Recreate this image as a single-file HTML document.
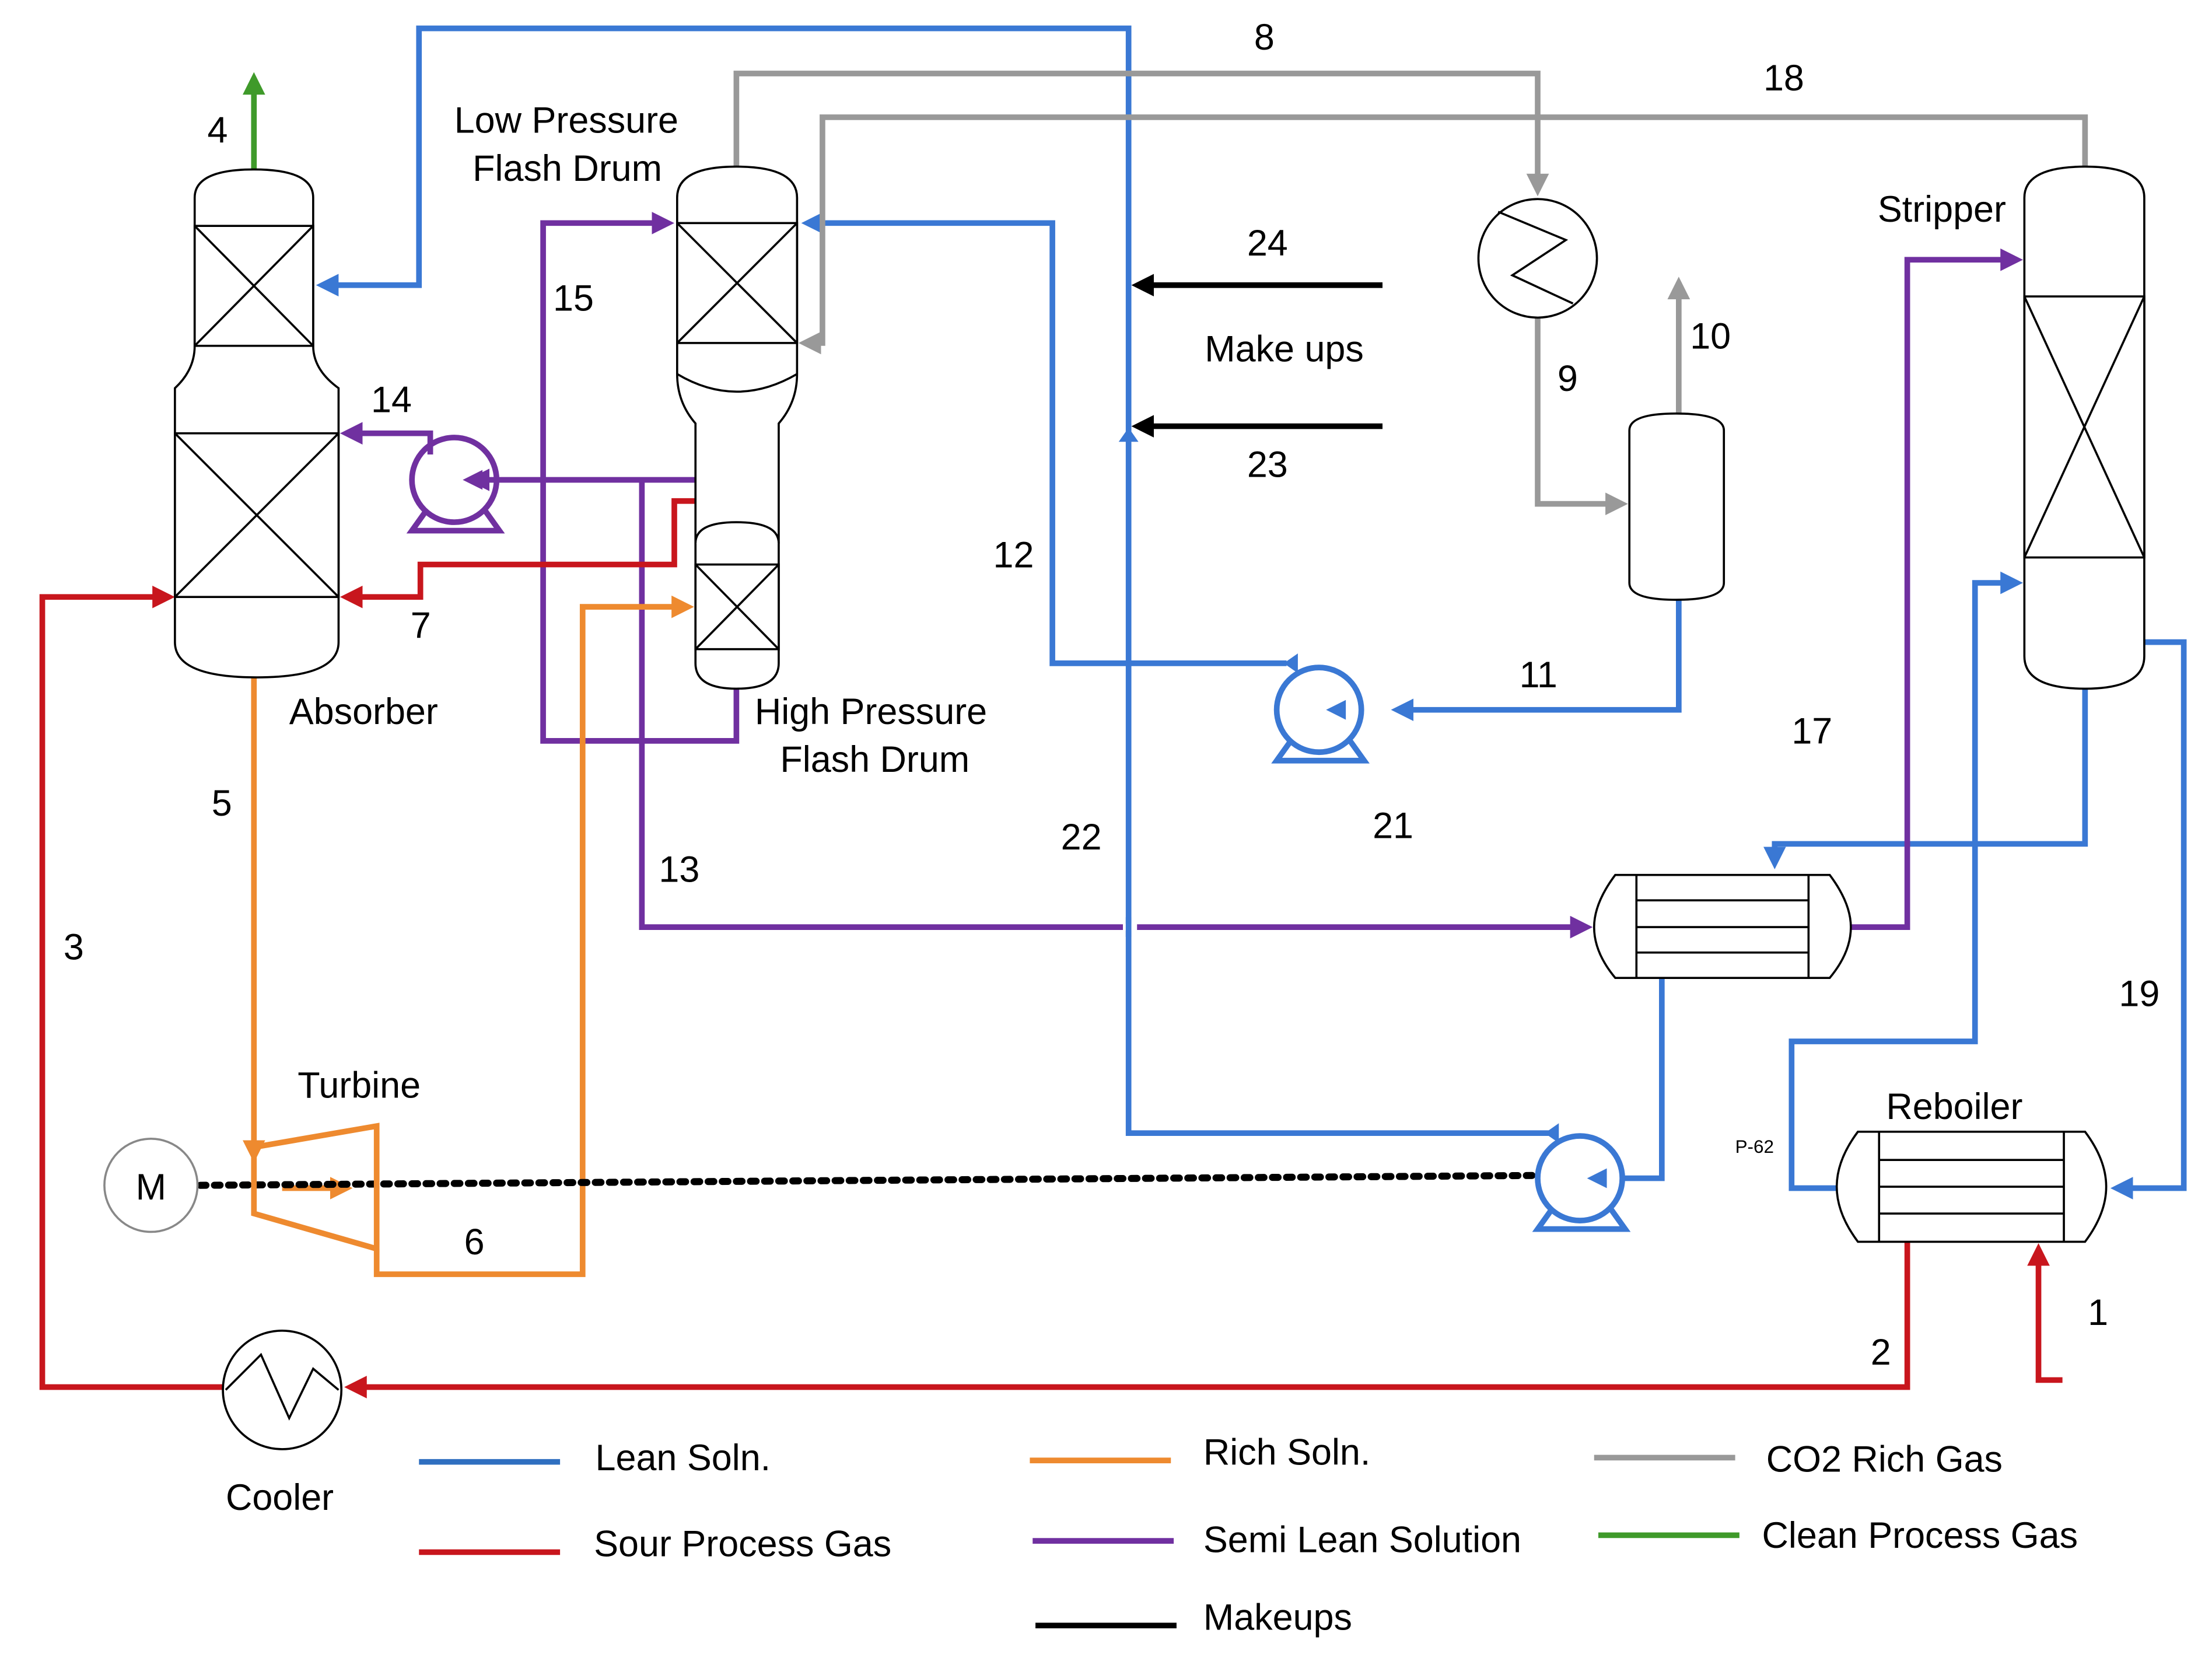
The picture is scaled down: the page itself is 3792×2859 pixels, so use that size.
<!DOCTYPE html>
<html><head><meta charset="utf-8"><style>html,body{margin:0;padding:0;background:#fff}svg{display:block}</style></head><body>
<svg width="3792" height="2859" viewBox="0 0 1568 1182" xmlns="http://www.w3.org/2000/svg" font-family="Liberation Sans, sans-serif">
<defs>
<marker id="ab" markerWidth="4" markerHeight="4" refX="3" refY="2" orient="auto" markerUnits="strokeWidth"><path d="M0,0 L4,2 L0,4z" fill="#3a78d4"/></marker>
<marker id="ar" markerWidth="4" markerHeight="4" refX="3" refY="2" orient="auto" markerUnits="strokeWidth"><path d="M0,0 L4,2 L0,4z" fill="#c8161d"/></marker>
<marker id="ao" markerWidth="4" markerHeight="4" refX="3" refY="2" orient="auto" markerUnits="strokeWidth"><path d="M0,0 L4,2 L0,4z" fill="#ee8a2f"/></marker>
<marker id="ap" markerWidth="4" markerHeight="4" refX="3" refY="2" orient="auto" markerUnits="strokeWidth"><path d="M0,0 L4,2 L0,4z" fill="#7030a0"/></marker>
<marker id="ag" markerWidth="4" markerHeight="4" refX="3" refY="2" orient="auto" markerUnits="strokeWidth"><path d="M0,0 L4,2 L0,4z" fill="#999"/></marker>
<marker id="agr" markerWidth="4" markerHeight="4" refX="3" refY="2" orient="auto" markerUnits="strokeWidth"><path d="M0,0 L4,2 L0,4z" fill="#3f9a2a"/></marker>
<marker id="ak" markerWidth="4" markerHeight="4" refX="3" refY="2" orient="auto" markerUnits="strokeWidth"><path d="M0,0 L4,2 L0,4z" fill="#000"/></marker>
</defs>
<g fill="none" stroke-width="4" stroke-linejoin="miter">
<polyline stroke="#3a78d4" points="1100,803 800,803 800,20 297,20 297,202 228,202" marker-end="url(#ab)"/>
<polyline stroke="#3a78d4" points="1178,690 1178,835 1150,835"/>
<polyline stroke="#3a78d4" points="1190,425 1190,503 990,503" marker-end="url(#ab)"/>
<polyline stroke="#3a78d4" points="912,470 746,470 746,158 572,158" marker-end="url(#ab)"/>
<polyline stroke="#3a78d4" points="1478,488 1478,598 1258,598 1258,612" marker-end="url(#ab)"/>
<polyline stroke="#3a78d4" points="1520,455 1548,455 1548,842 1500,842" marker-end="url(#ab)"/>
<polyline stroke="#3a78d4" points="1302,842 1270,842 1270,738 1400,738 1400,413 1430,413" marker-end="url(#ab)"/>
<polyline stroke="#999" points="522,118 522,52 1090,52 1090,135" marker-end="url(#ag)"/>
<polyline stroke="#999" points="1478,118 1478,83 583,83 583,243 570,243" marker-end="url(#ag)"/>
<polyline stroke="#999" points="1090,225 1090,357 1150,357" marker-end="url(#ag)"/>
<polyline stroke="#999" points="1190,293 1190,200" marker-end="url(#ag)"/>
<polyline stroke="#3f9a2a" points="180,120 180,55" marker-end="url(#agr)"/>
<polyline stroke="#7030a0" points="522,285 522,340 335,340" marker-end="url(#ap)"/>
<polyline stroke="#7030a0" points="305,322 305,307 245,307" marker-end="url(#ap)"/>
<polyline stroke="#7030a0" points="522,488 522,525 385,525 385,158 474,158" marker-end="url(#ap)"/>
<polyline stroke="#7030a0" points="455,340 455,657 1125,657" marker-end="url(#ap)"/>
<polyline stroke="#7030a0" points="1312,657 1352,657 1352,184 1430,184" marker-end="url(#ap)"/>
<line x1="796" y1="657" x2="806" y2="657" stroke="#fff" stroke-width="5"/>
<line x1="800" y1="650" x2="800" y2="664" stroke="#3a78d4"/>
<polyline stroke="#c8161d" points="522,370 522,355 478,355 478,400 298,400 298,423 245,423" marker-end="url(#ar)"/>
<polyline stroke="#c8161d" points="1352,880 1352,983 248,983" marker-end="url(#ar)"/>
<polyline stroke="#c8161d" points="158,983 30,983 30,423 120,423" marker-end="url(#ar)"/>
<polyline stroke="#c8161d" points="1462,978 1445,978 1445,885" marker-end="url(#ar)"/>
<polyline stroke="#ee8a2f" points="180,480 180,820" marker-end="url(#ao)"/>
<polyline stroke="#ee8a2f" points="267,885 267,903 413,903 413,430 488,430" marker-end="url(#ao)"/>
<polyline stroke="#ee8a2f" points="200,842 246,842" marker-end="url(#ao)"/>
<polyline stroke="#000" points="980,202 806,202" marker-end="url(#ak)"/>
<polyline stroke="#000" points="980,302 806,302" marker-end="url(#ak)"/>
<path d="M800,303 l-7,10 h14z" fill="#3a78d4" stroke="none"/>
<line x1="142" y1="840" x2="1090" y2="833" stroke="#000" stroke-dasharray="4,6" stroke-width="5" stroke-linecap="round"/>
</g>
<g fill="#fff" stroke="#000" stroke-width="1.5">
<path d="M138,245 V140 Q138,120 180,120 Q222,120 222,140 V245 Q222,262 240,275 V455 Q240,480 182,480 Q124,480 124,455 V275 Q138,262 138,245z"/>
<rect x="138" y="160" width="84" height="85"/><path d="M138,160 L222,245 M222,160 L138,245"/>
<rect x="124" y="307" width="116" height="116"/><path d="M124,307 L240,423 M240,307 L124,423"/>
<path d="M480,265 V140 Q480,118 522,118 Q565,118 565,140 V265 Q565,285 552,300 V470 Q552,488 522,488 Q493,488 493,470 V300 Q480,285 480,265z"/>
<rect x="480" y="158" width="85" height="85"/><path d="M480,158 L565,243 M565,158 L480,243"/>
<path d="M480,265 Q522,290 565,265" />
<path d="M493,385 Q493,370 522,370 Q552,370 552,385"/>
<rect x="493" y="400" width="59" height="60"/><path d="M493,400 L552,460 M552,400 L493,460"/>
<path d="M1435,140 Q1435,118 1478,118 Q1520,118 1520,140 V465 Q1520,488 1478,488 Q1435,488 1435,465z"/>
<rect x="1435" y="210" width="85" height="185"/><path d="M1435,210 L1520,395 M1520,210 L1435,395"/>
<path d="M1155,305 Q1155,293 1188,293 Q1222,293 1222,305 V413 Q1222,425 1188,425 Q1155,425 1155,413z"/>
<circle cx="1090" cy="183" r="42"/><path d="M1062,150 L1110,170 L1072,195 L1115,215" fill="none"/>
<circle cx="200" cy="985" r="42"/><path d="M160,985 L185,960 L205,1005 L222,970 L240,985" fill="none"/>
<path d="M1145,620 H1297 Q1312,640 1312,657 Q1312,675 1297,693 H1145 Q1130,675 1130,657 Q1130,640 1145,620z"/>
<path d="M1160,620 V693 M1282,620 V693 M1160,638 H1282 M1160,657 H1282 M1160,675 H1282" fill="none"/>
<path d="M1317,802 H1478 Q1493,822 1493,841 Q1493,860 1478,880 H1317 Q1302,860 1302,841 Q1302,822 1317,802z"/>
<path d="M1332,802 V880 M1463,802 V880 M1332,822 H1463 M1332,841 H1463 M1332,860 H1463" fill="none"/>
<circle cx="107" cy="840" r="33" stroke="#888"/>
</g>
<path d="M180,813 L267,798 L267,885 L180,860z" fill="none" stroke="#ee8a2f" stroke-width="4"/>
<g fill="none" stroke-width="4">
<g stroke="#7030a0"><circle cx="322" cy="340" r="30"/><path d="M302,362 L292,376 H354 L344,362"/></g>
<g stroke="#3a78d4"><circle cx="935" cy="503" r="30"/><path d="M915,525 L905,539 H967 L957,525"/>
<circle cx="1120" cy="835" r="30"/><path d="M1100,857 L1090,871 H1152 L1142,857"/></g>
</g>
<g fill="#3a78d4"><path d="M940,503 l14,-7 v14z"/><path d="M1125,835 l14,-7 v14z"/><path d="M910,470 l10,-7 v14z"/><path d="M1095,803 l10,-7 v14z"/></g>
<path d="M328,340 l14,-7 v14z" fill="#7030a0"/>
<text x="107" y="850" font-size="26" text-anchor="middle">M</text>
<g stroke-width="4">
<line x1="297" y1="1036" x2="397" y2="1036" stroke="#2f6fc0"/>
<line x1="297" y1="1100" x2="397" y2="1100" stroke="#c8161d"/>
<line x1="730" y1="1035" x2="830" y2="1035" stroke="#ee8a2f"/>
<line x1="732" y1="1092" x2="832" y2="1092" stroke="#7030a0"/>
<line x1="734" y1="1152" x2="834" y2="1152" stroke="#000"/>
<line x1="1130" y1="1033" x2="1230" y2="1033" stroke="#999"/>
<line x1="1133" y1="1088" x2="1233" y2="1088" stroke="#3f9a2a"/>
</g>
<g font-size="26" fill="#000">
<text x="422" y="1042">Lean Soln.</text>
<text x="421" y="1103">Sour Process Gas</text>
<text x="853" y="1038">Rich Soln.</text>
<text x="853" y="1100">Semi Lean Solution</text>
<text x="853" y="1155">Makeups</text>
<text x="1252" y="1043">CO2 Rich Gas</text>
<text x="1249" y="1097">Clean Process Gas</text>
<text x="322" y="94">Low Pressure</text>
<text x="335" y="128">Flash Drum</text>
<text x="205" y="513">Absorber</text>
<text x="535" y="513">High Pressure</text>
<text x="553" y="547">Flash Drum</text>
<text x="854" y="256">Make ups</text>
<text x="1331" y="157">Stripper</text>
<text x="211" y="778">Turbine</text>
<text x="1337" y="793">Reboiler</text>
<text x="160" y="1070">Cooler</text>
<text x="147" y="101">4</text>
<text x="889" y="35">8</text>
<text x="1250" y="64">18</text>
<text x="884" y="181">24</text>
<text x="884" y="338">23</text>
<text x="392" y="220">15</text>
<text x="263" y="292">14</text>
<text x="291" y="452">7</text>
<text x="1104" y="277">9</text>
<text x="1198" y="247">10</text>
<text x="704" y="402">12</text>
<text x="1077" y="487">11</text>
<text x="1270" y="527">17</text>
<text x="973" y="594">21</text>
<text x="752" y="602">22</text>
<text x="467" y="625">13</text>
<text x="150" y="578">5</text>
<text x="45" y="680">3</text>
<text x="1502" y="713">19</text>
<text x="329" y="889">6</text>
<text x="1480" y="939">1</text>
<text x="1326" y="967">2</text>
<text x="1230" y="817" font-size="13">P-62</text>
</g>
</svg>
</body></html>
